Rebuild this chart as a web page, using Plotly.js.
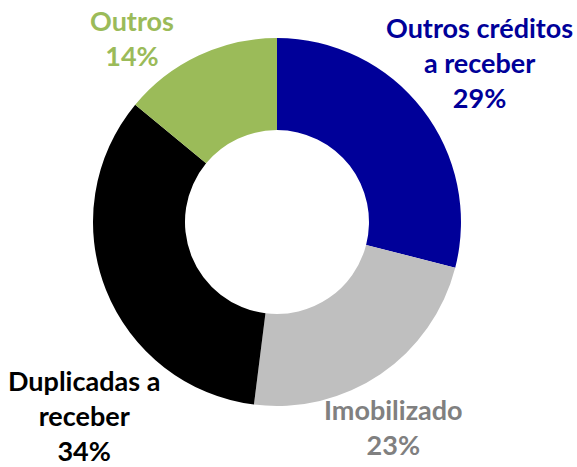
<!DOCTYPE html>
<html>
<head>
<meta charset="utf-8">
<script src="https://cdn.plot.ly/plotly-3.0.1.min.js"></script>
<style>html,body{margin:0;padding:0;background:#fff;}#chart{width:577px;height:467px;}</style>
</head>
<body>
<div id="chart"></div>
<script>
var categories = ['Outros créditos a receber', 'Imobilizado', 'Duplicadas a receber', 'Outros'];
var labelLines = ['Outros créditos<br>a receber', 'Imobilizado', 'Duplicadas a<br>receber', 'Outros'];
var values = [29, 23, 34, 14];
var sliceColors = ['#000099', '#BFBFBF', '#000000', '#9BBB59'];
var textColors = ['#000099', '#808080', '#000000', '#9BBB59'];
var labelPos = [[0.831, 0.866], [0.682, 0.086], [0.145, 0.110], [0.229, 0.918]];

var trace = {
  type: 'pie',
  labels: categories,
  values: values,
  hole: 0.5,
  sort: false,
  direction: 'clockwise',
  rotation: 0,
  marker: {colors: sliceColors, line: {width: 0}},
  textinfo: 'none',
  hoverinfo: 'label+percent',
  domain: {x: [0.1611, 0.7990], y: [0.1306, 0.9186]},
  showlegend: false
};

var annotations = categories.map(function (c, i) {
  return {
    xref: 'paper', yref: 'paper',
    x: labelPos[i][0], y: labelPos[i][1],
    xanchor: 'center', yanchor: 'middle',
    text: '<b>' + labelLines[i] + '<br>' + values[i] + '%</b>',
    showarrow: false,
    align: 'center',
    font: {family: 'Lato, sans-serif', size: 27, color: textColors[i]}
  };
});

Plotly.newPlot('chart', [trace], {
  width: 577, height: 467,
  margin: {l: 0, r: 0, t: 0, b: 0},
  paper_bgcolor: '#ffffff',
  annotations: annotations,
  showlegend: false
}, {displayModeBar: false});
</script>
</body>
</html>
